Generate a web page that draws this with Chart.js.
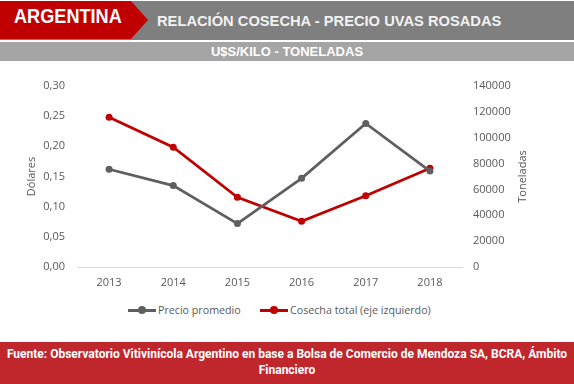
<!DOCTYPE html>
<html>
<head>
<meta charset="utf-8">
<script src="https://cdn.jsdelivr.net/npm/chart.js@4.4.0/dist/chart.umd.min.js"></script>
<style>
  html, body { margin:0; padding:0; background:#fff; }
  #wrap { position:relative; width:574px; height:384px; overflow:hidden; font-family:"Liberation Sans", Arial, sans-serif; }
  #band1 { position:absolute; left:0; top:1px; width:574px; height:39px; background:#7f7f7f; }
  #redbox { position:absolute; left:0; top:1px; width:148px; height:38px; background:#c00000;
            clip-path: polygon(0 0, 131px 0, 148px 19px, 131px 38px, 0 38px); }
  #arg { position:absolute; left:14px; top:4px; height:24px; line-height:24px; color:#fff; font-weight:bold; font-size:19.5px; white-space:nowrap; transform:scaleX(0.93); transform-origin:left center; }
  #title { position:absolute; left:157px; top:11px; line-height:20px; color:#f2f2f2; font-weight:bold; font-size:14.7px; white-space:nowrap; }
  #band2 { position:absolute; left:0; top:42px; width:574px; height:19px; background:#a5a5a5; }
  #sub { position:absolute; left:0; top:42px; width:574px; text-align:center; line-height:19px; color:#fff; font-weight:bold; font-size:13px; }
  #cv { position:absolute; left:0; top:62px; width:574px; height:240px; }
  .leg { position:absolute; top:302px; height:16px; font-family:"Open Sans", sans-serif; font-size:10.7px; color:#595959; line-height:16px; white-space:nowrap; }
  .sym { position:absolute; top:7px; width:28px; height:3px; }
  .dot { position:absolute; top:4px; width:8px; height:8px; border-radius:50%; }
  #foot { position:absolute; left:0; top:342px; width:574px; height:42px; background:#c0272d; }
  .fl { position:absolute; left:0; width:574px; text-align:center; color:#fff; font-family:Roboto, "Liberation Sans", sans-serif; font-weight:bold; font-size:12px; white-space:nowrap; line-height:16px; }
</style>
</head>
<body>
<div id="wrap">
  <div id="band1"></div>
  <div id="redbox"></div>
  <div id="arg">ARGENTINA</div>
  <div id="title">RELACIÓN COSECHA - PRECIO UVAS ROSADAS</div>
  <div id="band2"></div>
  <div id="sub">U$S/KILO - TONELADAS</div>
  <canvas id="cv" width="574" height="240"></canvas>
  <div id="leg1" class="leg" style="left:128px;"><span class="sym" style="left:0;background:#5f5f5f"></span><span class="dot" style="left:10px;background:#5f5f5f"></span><span style="position:absolute;left:30px;">Precio promedio</span></div>
  <div id="leg2" class="leg" style="left:260px;"><span class="sym" style="left:0;background:#c00000"></span><span class="dot" style="left:10px;background:#c00000"></span><span style="position:absolute;left:30px;">Cosecha total (eje izquierdo)</span></div>
  <div id="foot"></div>
  <div class="fl" id="f1" style="top:346px;">Fuente: Observatorio Vitivinícola Argentino en base a Bolsa de Comercio de Mendoza SA, BCRA, Ámbito</div>
  <div class="fl" id="f2" style="top:362px;">Financiero</div>
</div>
<script>
// ---- data ----
const years = ["2013", "2014", "2015", "2016", "2017", "2018"];
const precioPromedio = [0.162, 0.135, 0.072, 0.147, 0.238, 0.159];      // U$S/kilo (left axis)
const cosechaTotal = [115800, 92600, 53900, 35400, 55100, 76300];     // toneladas (right axis)
const leftTicks = [0, 0.05, 0.10, 0.15, 0.20, 0.25, 0.30];
const rightTicks = [0, 20000, 40000, 60000, 80000, 100000, 120000, 140000];

// fit footer first line to width
(function(){
  const f1 = document.getElementById('f1');
  const span = document.createElement('span');
  span.textContent = f1.textContent; f1.textContent = '';
  span.style.display = 'inline-block';
  f1.appendChild(span);
  const w = span.getBoundingClientRect().width;
  const s = 570 / w;
  if (s < 1) { span.style.transform = 'scaleX(' + s + ')'; span.style.transformOrigin = 'center'; }
})();

const tickColor = '#595959';
const tickFont = { family: '"Open Sans", sans-serif', size: 11 };

const rightTitle = {
  id: 'rightTitle',
  afterDraw(chart) {
    const ctx = chart.ctx, a = chart.chartArea;
    ctx.save();
    ctx.translate(a.right + 61, (a.top + a.bottom) / 2);
    ctx.rotate(-Math.PI / 2);
    ctx.fillStyle = tickColor;
    ctx.font = '11px "Open Sans", sans-serif';
    ctx.textAlign = 'center';
    ctx.textBaseline = 'middle';
    ctx.fillText('Toneladas', 0, 0);
    ctx.restore();
  }
};

new Chart(document.getElementById('cv'), {
  type: 'line',
  data: {
    labels: years,
    datasets: [
      { label: 'Precio promedio', data: precioPromedio, yAxisID: 'y',
        borderColor: '#5f5f5f', backgroundColor: '#5f5f5f', borderWidth: 2.75,
        pointRadius: 3.5, pointBorderWidth: 0, pointBackgroundColor: '#5f5f5f', tension: 0 },
      { label: 'Cosecha total (eje izquierdo)', data: cosechaTotal, yAxisID: 'y1',
        borderColor: '#c00000', backgroundColor: '#c00000', borderWidth: 2.75,
        pointRadius: 3.5, pointBorderWidth: 0, pointBackgroundColor: '#c00000', tension: 0 }
    ]
  },
  options: {
    responsive: false,
    animation: false,
    layout: { padding: { top: 24, left: 0, right: 0, bottom: 0 } },
    plugins: { legend: { display: false }, tooltip: { enabled: false } },
    scales: {
      x: {
        offset: true,
        grid: { display: false, drawTicks: false },
        border: { display: true, color: '#d9d9d9', width: 1 },
        ticks: { color: tickColor, font: tickFont, padding: 9 },
        afterFit(s) { s.height = 35; }
      },
      y: {
        position: 'left', min: 0, max: 0.3,
        grid: { display: false, drawTicks: false },
        border: { display: false },
        afterBuildTicks(s) { s.ticks = leftTicks.map(v => ({ value: v })); },
        ticks: { color: tickColor, font: tickFont, padding: 12,
                 callback: v => Number(v).toFixed(2).replace('.', ',') },
        title: { display: true, text: 'Dólares', color: tickColor, font: tickFont, padding: { top: 25, bottom: 0 } },
        afterFit(s) { s.width = 77; }
      },
      y1: {
        position: 'right', min: 0, max: 140000,
        grid: { display: false, drawTicks: false },
        border: { display: false },
        afterBuildTicks(s) { s.ticks = rightTicks.map(v => ({ value: v })); },
        ticks: { color: tickColor, font: tickFont, padding: 11, callback: v => String(v) },
        afterFit(s) { s.width = 112; }
      }
    }
  },
  plugins: [rightTitle]
});
</script>
</body>
</html>
